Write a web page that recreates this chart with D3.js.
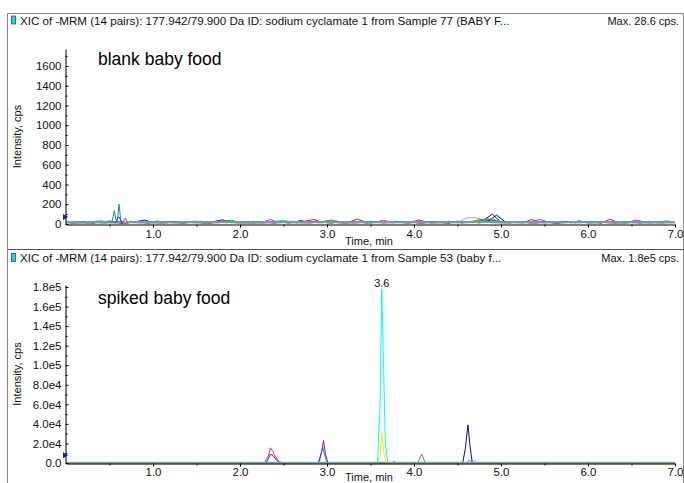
<!DOCTYPE html>
<html>
<head>
<meta charset="utf-8">
<script src="https://cdn.jsdelivr.net/npm/d3@7"></script>
<style>
  body { margin: 0; background: #fff; }
  svg { display: block; font-family: "Liberation Sans", Arial, sans-serif; }
  .tick text { font-size: 11.5px; fill: #111; }
  .domain, .tick line { stroke: #000; }
</style>
</head>
<body>
<script>
// ---- data: blank baby food (noise, cps) ----
const gridA = [0.0, 0.1, 0.2, 0.3, 0.4, 0.5, 0.6, 0.7, 0.8, 0.9, 1.0, 1.1, 1.2, 1.3, 1.4, 1.5, 1.6, 1.7, 1.8, 1.9,
  2.0, 2.1, 2.2, 2.3, 2.4, 2.5, 2.6, 2.7, 2.8, 2.9, 3.0, 3.1, 3.2, 3.3, 3.4, 3.5, 3.6, 3.7, 3.8, 3.9,
  4.0, 4.1, 4.2, 4.3, 4.4, 4.5, 4.6, 4.7, 4.8, 4.9, 5.0, 5.1, 5.2, 5.3, 5.4, 5.5, 5.6, 5.7, 5.8, 5.9,
  6.0, 6.1, 6.2, 6.3, 6.4, 6.5, 6.6, 6.7, 6.8, 6.9, 7.0];
const gridB = [0.05, 0.15, 0.25, 0.35, 0.45, 0.55, 0.65, 0.75, 0.85, 0.95, 1.05, 1.15, 1.25, 1.35, 1.45, 1.55, 1.65, 1.75, 1.85, 1.95,
  2.05, 2.15, 2.25, 2.35, 2.45, 2.55, 2.65, 2.75, 2.85, 2.95, 3.05, 3.15, 3.25, 3.35, 3.45, 3.55, 3.65, 3.75, 3.85, 3.95,
  4.05, 4.15, 4.25, 4.35, 4.45, 4.55, 4.65, 4.75, 4.85, 4.95, 5.05, 5.15, 5.25, 5.35, 5.45, 5.55, 5.65, 5.75, 5.85, 5.95,
  6.05, 6.15, 6.25, 6.35, 6.45, 6.55, 6.65, 6.75, 6.85, 6.95];

const blankBlue = [20, 12, 25, 8, 18, 30, 15, 10, 22, 40, 14, 9, 26, 11, 20, 17, 8, 24, 42, 13,
  19, 10, 23, 16, 9, 28, 14, 35, 12, 20, 18, 25, 9, 15, 30, 11, 22, 13, 27, 10,
  16, 24, 12, 19, 8, 29, 14, 21, 38, 100, 17, 10, 23, 15, 9, 26, 12, 20, 14, 31,
  11, 18, 25, 10, 16, 22, 9, 27, 13, 19, 15];
const blankRed = [15, 22, 10, 28, 13, 19, 9, 25, 17, 12, 30, 14, 21, 11, 26, 16, 8, 23, 35, 13,
  18, 27, 10, 20, 15, 24, 12, 29, 45, 16, 11, 22, 19, 50, 14, 25, 9, 21, 17, 13,
  40, 20, 11, 26, 15, 18, 23, 10, 33, 28, 14, 19, 12, 45, 16, 22, 10, 27, 13, 18,
  24, 9, 48, 15, 20, 12, 26, 17, 11, 21];
const blankGreen = [10, 18, 14, 22, 9, 16, 25, 12, 20, 15, 11, 19, 24, 13, 17, 10, 21, 15, 26, 38,
  12, 18, 9, 23, 16, 14, 20, 11, 27, 13, 35, 17, 22, 10, 19, 14, 25, 12, 18, 16,
  21, 9, 24, 15, 28, 13, 17, 22, 45, 42, 14, 20, 11, 16, 23, 10, 18, 26, 12, 15,
  19, 24, 13, 17, 9, 21, 15, 11, 20, 14, 12];
const blankMagenta = [14, 9, 20, 16, 25, 12, 18, 28, 11, 22, 15, 19, 10, 24, 13, 27, 17, 12, 21, 15,
  9, 23, 16, 45, 13, 20, 11, 26, 18, 14, 22, 10, 17, 25, 12, 19, 38, 15, 21, 11,
  16, 24, 13, 18, 27, 10, 20, 15, 30, 17, 12, 22, 14, 26, 45, 18, 11, 23, 16, 20,
  13, 25, 9, 19, 15, 40, 21, 12, 17, 14];
const blankCyan = [12, 16, 9, 20, 35, 14, 18, 11, 23, 15, 19, 10, 24, 13, 17, 21, 9, 26, 14, 18,
  12, 22, 16, 10, 25, 38, 15, 20, 11, 27, 14, 18, 23, 12, 16, 30, 10, 21, 15, 19,
  24, 13, 17, 11, 22, 16, 20, 14, 35, 26, 12, 18, 15, 23, 10, 19, 25, 13, 17, 21,
  14, 11, 24, 16, 20, 13, 18, 22, 10, 35, 15];
const blankNavy = [10, 16, 12, 20, 14, 18, 9, 22, 15, 11, 19, 13, 24, 10, 17, 21, 12, 16, 25, 14,
  18, 11, 20, 15, 23, 10, 17, 13, 21, 16, 12, 19, 14, 22, 11, 18, 24, 13, 16, 20,
  10, 15, 23, 12, 19, 14, 17, 25, 30, 90, 20, 13, 18, 11, 22, 15, 10, 19, 14, 21,
  16, 12, 24, 17, 11, 20, 15, 13, 25, 18];
const blankGray = [14, 18, 11, 16, 20, 13, 15, 22, 10, 17, 12, 19, 15, 21, 11, 16, 24, 13, 18, 14,
  20, 10, 17, 23, 12, 15, 19, 14, 21, 11, 16, 35, 13, 18, 25, 12, 20, 15, 17, 13,
  30, 19, 11, 24, 16, 14, 60, 65, 40, 55, 18, 12, 21, 15, 10, 17, 23, 14, 19, 11,
  16, 22, 13, 18, 15, 20, 12, 17, 14, 21, 16];
const blankOlive = [12, 17, 14, 20, 11, 16, 22, 13, 18, 15, 19, 10, 23, 14, 17, 12, 21, 16, 13, 20,
  15, 24, 11, 18, 14, 19, 22, 12, 17, 13, 40, 16, 20, 11, 25, 14, 18, 12, 21, 15,
  17, 13, 23, 10, 19, 16, 22, 45, 50, 30, 15, 20, 12, 18, 14, 23, 11, 17, 16, 19,
  13, 21, 15, 12, 24, 17, 14, 20, 11, 16];
const blankSteel = [18, 20, 17, 19, 21, 18, 16, 20, 19, 17, 21, 18, 20, 16, 19, 22, 18, 17, 20, 19,
  16, 21, 18, 20, 17, 19, 22, 18, 16, 20, 19, 17, 21, 18, 20, 16, 19, 22, 17, 18,
  20, 19, 16, 21, 18, 20, 17, 19, 22, 18, 16, 20, 19, 17, 21, 18, 20, 16, 19, 22,
  18, 17, 20, 19, 16, 21, 18, 20, 17, 19, 18];

// small peaks near 0.6 min in the blank
const blankTealPeakT = [0.50, 0.53, 0.555, 0.575, 0.59, 0.61, 0.63, 0.66];
const blankTealPeakV = [18, 25, 135, 40, 30, 200, 30, 18];
const blankBluePeakT = [0.57, 0.60, 0.62, 0.64];
const blankBluePeakV = [15, 70, 60, 12];
const blankMagentaPeakT = [0.65, 0.68, 0.71];
const blankMagentaPeakV = [15, 60, 15];
const blankYellowPeakT = [0.66, 0.70, 0.73];
const blankYellowPeakV = [10, 32, 10];

// ---- data: spiked baby food (cps) ----
const flatT = [0, 7];
const flatV = [0, 0];
const spkRedT = [0, 2.28, 2.33, 2.35, 2.38, 2.41, 2.45, 2.50, 7];
const spkRedV = [0, 0, 8000, 15500, 11500, 6000, 1500, 0, 0];
const spkBlueT = [0, 2.30, 2.35, 2.38, 2.42, 2.46, 7];
const spkBlueV = [0, 0, 9000, 7500, 3000, 0, 0];
const spkPurpleT = [0, 2.90, 2.94, 2.96, 2.98, 3.01, 7];
const spkPurpleV = [0, 0, 12000, 23000, 10000, 0, 0];
const spkCyanT = [0, 3.58, 3.61, 3.63, 3.65, 3.67, 3.70, 7];
const spkCyanV = [0, 0, 60000, 178000, 100000, 20000, 0, 0];
const spkYellowT = [0, 3.58, 3.61, 3.63, 3.65, 3.68, 7];
const spkYellowV = [0, 0, 8000, 31000, 12000, 0, 0];
const spkGreenT = [0, 3.74, 3.77, 3.80, 7];
const spkGreenV = [0, 0, 1500, 0, 0];
const spkOliveT = [0, 4.04, 4.09, 4.13, 7];
const spkOliveV = [0, 0, 9000, 0, 0];
const spkNavyT = [0, 4.56, 4.59, 4.62, 4.64, 4.67, 7];
const spkNavyV = [0, 0, 15000, 39000, 20000, 0, 0];
const spkPinkT = [0, 4.60, 4.63, 4.67, 7];
const spkPinkV = [0, 0, 3000, 0, 0];
const spkLightBlueT = [0, 4.66, 4.70, 4.74, 7];
const spkLightBlueV = [0, 0, 2500, 0, 0];
const spkTealT = [0, 2.91, 2.95, 2.97, 3.00, 7];
const spkTealV = [0, 0, 16000, 9000, 0, 0];

// ---- axis ticks ----
const timeTicks = [1, 2, 3, 4, 5, 6, 7];
const timeMinor = [0.5, 1.5, 2.5, 3.5, 4.5, 5.5, 6.5];
const blankTicks = [0, 200, 400, 600, 800, 1000, 1200, 1400, 1600];
const blankMinor = [100, 300, 500, 700, 900, 1100, 1300, 1500, 1700];
const spikedTicks = [0, 20000, 40000, 60000, 80000, 100000, 120000, 140000, 160000, 180000];
const spikedMinor = [10000, 30000, 50000, 70000, 90000, 110000, 130000, 150000, 170000];

const W = 684, H = 483;
const svg = d3.select("body").append("svg").attr("width", W).attr("height", H);

// Outer frame and panel divider
svg.append("path")
  .attr("d", "M7.5,483 V13.5 H683.5 V483")
  .style("fill", "none")
  .style("stroke", "#888");
svg.append("line")
  .attr("x1", 7.5).attr("x2", 683.5)
  .attr("y1", 249.5).attr("y2", 249.5)
  .style("stroke", "#555");

const x = d3.scaleLinear().domain([0, 7]).range([66, 675]);

function drawPanel(p) {
  const g = svg.append("g");
  const y = d3.scaleLinear().domain([0, p.yMax]).range([p.yBottom, p.yTop]);

  // header: icon, title, max
  g.append("rect")
    .attr("x", 11.5).attr("y", p.headY - 8.5)
    .attr("width", 4).attr("height", 8)
    .style("fill", "#00e5e5").style("stroke", "#333").style("stroke-width", 0.7);
  g.append("text")
    .attr("x", 20).attr("y", p.headY)
    .style("font-size", "11.6px").style("fill", "#111")
    .text(p.title);
  g.append("text")
    .attr("x", 679).attr("y", p.headY)
    .attr("text-anchor", "end")
    .style("font-size", "11px").style("fill", "#111")
    .text(p.max);

  // clip
  g.append("clipPath").attr("id", p.id + "-clip")
    .append("rect")
    .attr("x", 66).attr("y", p.yTop - 10)
    .attr("width", 612).attr("height", p.yBottom - p.yTop + 12);

  const line = d3.line()
    .x(d => x(d[0]))
    .y(d => y(d[1]));

  const traces = g.append("g").attr("clip-path", `url(#${p.id}-clip)`);
  p.traces.forEach(tr => {
    traces.append("path")
      .datum(d3.zip(tr.t, tr.v))
      .attr("d", line)
      .style("fill", "none")
      .style("stroke", tr.color)
      .style("stroke-width", tr.w || 1)
      .style("stroke-linejoin", "round");
  });

  // y axis
  g.append("g")
    .attr("transform", "translate(65.5,0)")
    .call(d3.axisLeft(y).tickValues(p.ticks).tickFormat(p.fmt)
      .tickSizeInner(-3).tickSizeOuter(0).tickPadding(4));
  g.append("g")
    .attr("transform", "translate(65.5,0)")
    .call(d3.axisLeft(y).tickValues(p.minor).tickFormat("")
      .tickSizeInner(-2).tickSizeOuter(0))
    .select(".domain").remove();

  // x axis
  g.append("g")
    .attr("transform", `translate(0,${p.yBottom + 0.5})`)
    .call(d3.axisBottom(x).tickValues(timeTicks).tickFormat(d3.format(".1f"))
      .tickSizeInner(3).tickSizeOuter(0).tickPadding(p.xPad));
  g.append("g")
    .attr("transform", `translate(0,${p.yBottom + 0.5})`)
    .call(d3.axisBottom(x).tickValues(timeMinor).tickFormat("")
      .tickSizeInner(2).tickSizeOuter(0))
    .select(".domain").remove();

  g.selectAll(".domain").style("stroke-width", 1);

  // axis titles
  g.append("text")
    .attr("x", 345).attr("y", p.yBottom + p.timeDy)
    .style("font-size", "11px").style("fill", "#111")
    .text("Time, min");
  g.append("text")
    .attr("transform", `translate(21,${(p.yTop + p.yBottom) / 2}) rotate(-90)`)
    .attr("text-anchor", "middle")
    .style("font-size", "11px").style("fill", "#111")
    .text("Intensity, cps");

  // threshold marker on the y axis
  g.append("path")
    .attr("d", `M63,${y(p.marker) - 3} L68,${y(p.marker)} L63,${y(p.marker) + 3} Z`)
    .style("fill", "#1a1aa0");

  // sample label
  g.append("text")
    .attr("x", 98).attr("y", p.labelY)
    .style("font-size", "17.5px").style("fill", "#000")
    .text(p.label);

  return y;
}

const sciFmt = v => v === 0 ? "0.0" : d3.format(".1e")(v).replace("+", "");

drawPanel({
  id: "blank",
  title: "XIC of -MRM (14 pairs): 177.942/79.900 Da ID: sodium cyclamate 1 from Sample 77 (BABY F...",
  max: "Max. 28.6 cps.",
  label: "blank baby food",
  headY: 24.5, labelY: 65,
  yMax: 1772, yBottom: 224, yTop: 49,
  ticks: blankTicks, minor: blankMinor, fmt: d3.format("d"),
  xPad: 2, timeDy: 21, marker: 70,
  traces: [
    { t: gridA, v: blankBlue, color: "#0000ff" },
    { t: gridB, v: blankRed, color: "#ff0000" },
    { t: gridA, v: blankGreen, color: "#00c000" },
    { t: gridB, v: blankMagenta, color: "#ff00ff" },
    { t: gridA, v: blankCyan, color: "#00d8d8" },
    { t: gridB, v: blankNavy, color: "#000080" },
    { t: gridA, v: blankGray, color: "#a8a8a8" },
    { t: gridB, v: blankOlive, color: "#3c8c3c" },
    { t: gridA, v: blankSteel, color: "#6f9fa8", w: 2 },
    { t: blankYellowPeakT, v: blankYellowPeakV, color: "#e0e000" },
    { t: blankMagentaPeakT, v: blankMagentaPeakV, color: "#ff00ff" },
    { t: blankBluePeakT, v: blankBluePeakV, color: "#0000ff" },
    { t: blankTealPeakT, v: blankTealPeakV, color: "#1e9090" }
  ]
});

const ySpk = drawPanel({
  id: "spiked",
  title: "XIC of -MRM (14 pairs): 177.942/79.900 Da ID: sodium cyclamate 1 from Sample 53 (baby f...",
  max: "Max. 1.8e5 cps.",
  label: "spiked baby food",
  headY: 262, labelY: 304,
  yMax: 182000, yBottom: 463, yTop: 285,
  ticks: spikedTicks, minor: spikedMinor, fmt: sciFmt,
  xPad: 1, timeDy: 18, marker: 8000,
  traces: [
    { t: flatT, v: flatV, color: "#a8a8a8" },
    { t: flatT, v: flatV, color: "#3c8c3c" },
    { t: flatT, v: flatV, color: "#ff9900", w: 2.5 },
    { t: spkGreenT, v: spkGreenV, color: "#00e000" },
    { t: spkLightBlueT, v: spkLightBlueV, color: "#8fb8ff" },
    { t: spkPinkT, v: spkPinkV, color: "#ff40ff" },
    { t: spkOliveT, v: spkOliveV, color: "#5f8a6a" },
    { t: spkBlueT, v: spkBlueV, color: "#2020ff" },
    { t: spkRedT, v: spkRedV, color: "#ff3030" },
    { t: spkTealT, v: spkTealV, color: "#3aa0a0" },
    { t: spkPurpleT, v: spkPurpleV, color: "#7a1a9a" },
    { t: spkYellowT, v: spkYellowV, color: "#f0f000" },
    { t: spkNavyT, v: spkNavyV, color: "#10106e" },
    { t: spkCyanT, v: spkCyanV, color: "#00ffff" },
    { t: flatT, v: flatV, color: "#79b4c0", w: 1.5 }
  ]
});

// apex label of the main peak
const apexIdx = d3.maxIndex(spkCyanV);
svg.append("text")
  .attr("x", x(spkCyanT[apexIdx]))
  .attr("y", ySpk(spkCyanV[apexIdx]) - 2)
  .attr("text-anchor", "middle")
  .style("font-size", "11px").style("fill", "#111")
  .text(d3.format(".1f")(spkCyanT[apexIdx]));
</script>
</body>
</html>
